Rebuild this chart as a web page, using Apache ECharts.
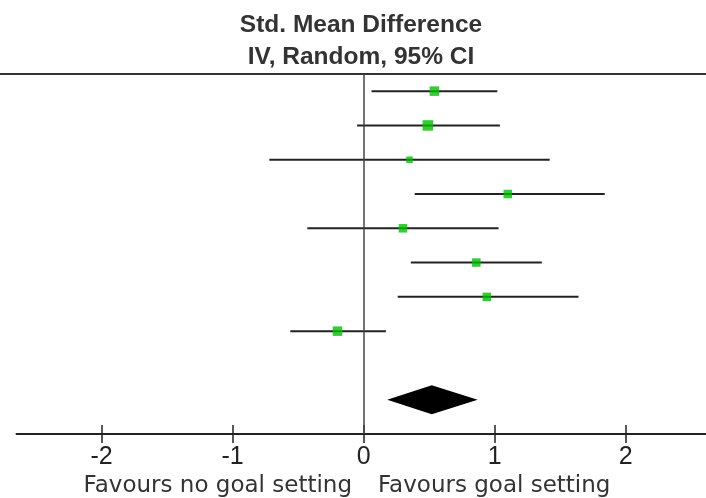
<!DOCTYPE html>
<html><head><meta charset="utf-8">
<script src="https://cdn.jsdelivr.net/npm/echarts@6/dist/echarts.min.js"></script>
<style>html,body{margin:0;padding:0;background:#fff}#c{width:706px;height:498px}</style>
</head><body><div id="c"></div>
<script>
const titleLines = ['Std. Mean Difference', 'IV, Random, 95% CI'];
const tickValues = [-2, -1, 0, 1, 2];
const favourLabels = ['Favours no goal setting', 'Favours goal setting'];
const estimates = [0.54, 0.49, 0.35, 1.10, 0.30, 0.86, 0.94, -0.20];
const lower = [0.06, -0.05, -0.72, 0.39, -0.43, 0.36, 0.26, -0.56];
const upper = [1.02, 1.04, 1.42, 1.84, 1.03, 1.36, 1.64, 0.17];
const weights = [14.5, 17.7, 6.8, 11.6, 11.6, 11.6, 11.6, 14.5];
const pooled = [0.52, 0.18, 0.87];

const pooledRow = estimates.length + 2;
const ciData = estimates.map((e, i) => [lower[i], upper[i], i + 1]);
const ptData = estimates.map((e, i) => [e, i + 1, weights[i]]);

const chart = echarts.init(document.getElementById('c'), null, {renderer: 'canvas'});
chart.setOption({
  animation: false,
  backgroundColor: '#fff',
  title: {
    text: titleLines.join('\n'),
    left: 361, top: 9, padding: 0, textAlign: 'center',
    textStyle: {fontSize: 24.5, fontWeight: 'bold', fontFamily: 'Liberation Sans, Arial, sans-serif', color: '#333', lineHeight: 32}
  },
  grid: {left: 16.5, top: 74, width: 693, height: 360, outerBoundsMode: 'none', containLabel: false},
  xAxis: [{
    type: 'value', min: -2.65, max: 2.64, position: 'bottom',
    axisLine: {lineStyle: {color: '#222', width: 2}},
    axisTick: {customValues: tickValues, length: 9, lineStyle: {color: '#222', width: 1.5}},
    axisLabel: {customValues: tickValues, fontSize: 25, fontFamily: 'Liberation Sans, Arial, sans-serif', color: '#222', margin: 11},
    splitLine: {show: false}
  }, {
    type: 'value', min: -2.65, max: 2.64, position: 'bottom', offset: 0,
    axisLine: {show: false},
    axisTick: {customValues: tickValues, inside: true, length: 9, lineStyle: {color: '#222', width: 1.5}},
    axisLabel: {show: false},
    splitLine: {show: false}
  }],
  yAxis: {type: 'value', min: 0.5, max: 11, inverse: true, show: false},
  graphic: [
    {type: 'line', shape: {x1: 0, y1: 74, x2: 706, y2: 74}, style: {stroke: '#333', lineWidth: 2}},
    {type: 'text', x: 352, y: 486, style: {text: favourLabels[0], align: 'right', verticalAlign: 'middle', fontSize: 23, fontFamily: 'DejaVu Sans, sans-serif', fill: '#333'}},
    {type: 'text', x: 378, y: 486, style: {text: favourLabels[1], align: 'left', verticalAlign: 'middle', fontSize: 23, fontFamily: 'DejaVu Sans, sans-serif', fill: '#333'}}
  ],
  series: [{
    type: 'custom',
    data: ciData,
    encode: {x: [0, 1], y: 2},
    renderItem: (params, api) => {
      const a = api.coord([api.value(0), api.value(2)]);
      const b = api.coord([api.value(1), api.value(2)]);
      return {type: 'line', shape: {x1: a[0], y1: a[1], x2: b[0], y2: b[1]}, style: {stroke: '#222', lineWidth: 2}};
    },
    markLine: {
      silent: true, symbol: 'none', label: {show: false},
      lineStyle: {color: '#444', width: 1.5, type: 'solid'},
      data: [{xAxis: 0}]
    },
    z: 2
  }, {
    type: 'scatter',
    data: ptData,
    symbol: 'rect',
    symbolSize: v => Math.sqrt(v[2]) * 2.5,
    itemStyle: {color: '#00c000'},
    z: 3
  }, {
    type: 'custom',
    data: [[pooled[0], pooled[1], pooled[2], pooledRow]],
    encode: {x: [0, 1, 2], y: 3},
    renderItem: (params, api) => {
      const c = api.coord([api.value(0), api.value(3)]);
      const l = api.coord([api.value(1), api.value(3)]);
      const r = api.coord([api.value(2), api.value(3)]);
      const h = 14.5;
      return {type: 'polygon', shape: {points: [[l[0], c[1]], [c[0], c[1] - h], [r[0], c[1]], [c[0], c[1] + h]]}, style: {fill: '#000'}};
    },
    z: 3
  }]
});
</script></body></html>
